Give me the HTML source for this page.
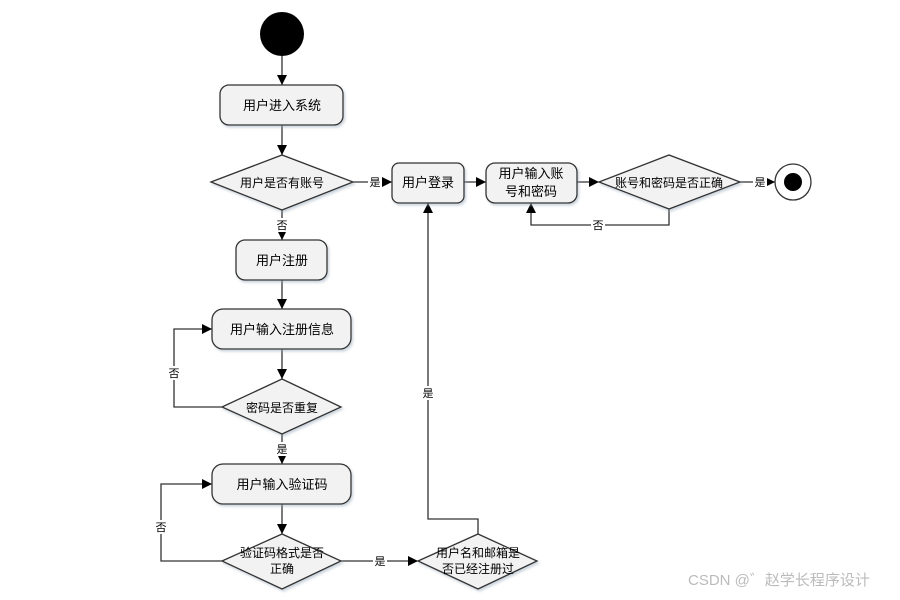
<!DOCTYPE html>
<html><head><meta charset="utf-8"><style>
body{margin:0;background:#fff}
svg text{font-family:"Liberation Sans","Noto Sans CJK SC",sans-serif;fill:#000}
</style></head><body>
<svg width="900" height="595" viewBox="0 0 900 595" xmlns="http://www.w3.org/2000/svg">
<defs>
<marker id="a" viewBox="0 0 10 10" refX="10" refY="5" markerWidth="10" markerHeight="10" markerUnits="userSpaceOnUse" orient="auto"><path d="M0,0L10,5L0,10z" fill="#000"/></marker>
<filter id="s" x="-10%" y="-10%" width="130%" height="140%"><feDropShadow dx="1.5" dy="2" stdDeviation="1.2" flood-color="#9ab" flood-opacity="0.5"/></filter>
</defs>
<g stroke="#333" stroke-width="1.3" fill="none">
<line x1="282" y1="56" x2="282" y2="85" marker-end="url(#a)"/>
<line x1="282" y1="125" x2="282" y2="155" marker-end="url(#a)"/>
<line x1="282" y1="210" x2="282" y2="240" marker-end="url(#a)"/>
<line x1="282" y1="280" x2="282" y2="309" marker-end="url(#a)"/>
<line x1="282" y1="349" x2="282" y2="379" marker-end="url(#a)"/>
<line x1="282" y1="434" x2="282" y2="464" marker-end="url(#a)"/>
<line x1="282" y1="504" x2="282" y2="534" marker-end="url(#a)"/>
<polyline points="222,407 174,407 174,329 212,329" marker-end="url(#a)"/>
<polyline points="222,561 161,561 161,484 212,484" marker-end="url(#a)"/>
<line x1="341" y1="561" x2="418" y2="561" marker-end="url(#a)"/>
<polyline points="478,534 478,519 428,519 428,203" marker-end="url(#a)"/>
<line x1="353" y1="182" x2="392" y2="182" marker-end="url(#a)"/>
<line x1="464" y1="182" x2="486" y2="182" marker-end="url(#a)"/>
<line x1="577" y1="182" x2="599" y2="182" marker-end="url(#a)"/>
<line x1="740" y1="182" x2="775" y2="182" marker-end="url(#a)"/>
<polyline points="669,209 669,225 531,225 531,203" marker-end="url(#a)"/>
</g>
<circle cx="282" cy="34" r="22" fill="#000"/>
<circle cx="793" cy="182" r="18" fill="#fff" stroke="#333" stroke-width="1.3"/>
<circle cx="793" cy="182" r="9" fill="#000"/>
<g fill="#f2f2f2" stroke="#333" stroke-width="1.3" filter="url(#s)">
<rect x="220" y="85" width="123" height="40" rx="9"/>
<rect x="236" y="240" width="91" height="40" rx="9"/>
<rect x="212" y="309" width="139" height="40" rx="11"/>
<rect x="212" y="464" width="139" height="40" rx="11"/>
<rect x="392" y="163" width="72" height="40" rx="7"/>
<rect x="486" y="163" width="91" height="40" rx="9"/>
<polygon points="211,182 282,155 353,182 282,210"/>
<polygon points="222,407 282,379 341,407 282,434"/>
<polygon points="222,561 282,534 341,561 282,589"/>
<polygon points="418,561 478,534 537,561 478,589"/>
<polygon points="599,182 669,155 740,182 669,209"/>
</g>
<g font-size="13" text-anchor="middle">
<text x="282" y="110">用户进入系统</text>
<text x="282" y="265">用户注册</text>
<text x="282" y="334">用户输入注册信息</text>
<text x="282" y="489">用户输入验证码</text>
<text x="428" y="187">用户登录</text>
<text x="531" y="178">用户输入账</text>
<text x="531" y="196">号和密码</text>
<text x="282" y="187" font-size="12">用户是否有账号</text>
<text x="282" y="412" font-size="12">密码是否重复</text>
<text x="282" y="557" font-size="12">验证码格式是否</text>
<text x="282" y="573" font-size="12">正确</text>
<text x="478" y="557" font-size="12">用户名和邮箱是</text>
<text x="478" y="573" font-size="12">否已经注册过</text>
<text x="669" y="187" font-size="12">账号和密码是否正确</text>
</g>
<g font-size="11" text-anchor="middle">
<rect x="368" y="175" width="14" height="14" fill="#fff"/><text x="375" y="186">是</text>
<rect x="753" y="175" width="14" height="14" fill="#fff"/><text x="760" y="186">是</text>
<rect x="373" y="554" width="14" height="14" fill="#fff"/><text x="380" y="565">是</text>
<rect x="275" y="218" width="14" height="14" fill="#fff"/><text x="282" y="229">否</text>
<rect x="275" y="442" width="14" height="14" fill="#fff"/><text x="282" y="453">是</text>
<rect x="167" y="366" width="14" height="14" fill="#fff"/><text x="174" y="377">否</text>
<rect x="154" y="520" width="14" height="14" fill="#fff"/><text x="161" y="531">否</text>
<rect x="421" y="386" width="14" height="14" fill="#fff"/><text x="428" y="397">是</text>
<rect x="591" y="218" width="14" height="14" fill="#fff"/><text x="598" y="229">否</text>
</g>
<text x="688" y="585" font-size="15" style="fill:#bbb">CSDN @゛赵学长程序设计</text>
</svg>
</body></html>
